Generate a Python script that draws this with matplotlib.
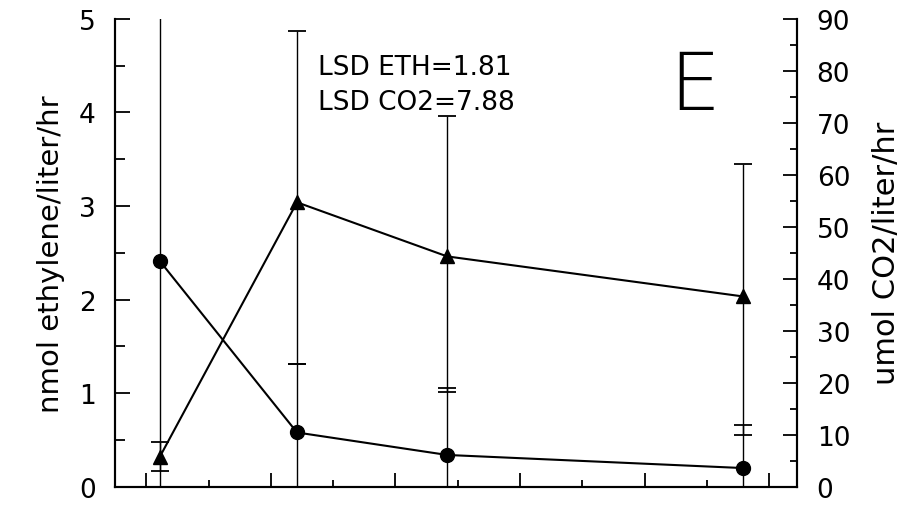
import numpy as np
import matplotlib
matplotlib.use("Agg")
import matplotlib.pyplot as plt
from matplotlib.ticker import MultipleLocator, NullFormatter

# sampling positions along the time axis (tick units)
sample_x = [0.22, 2.42, 4.83, 9.58]

# ethylene production (left axis, filled circles)
ethylene = [2.41, 0.58, 0.34, 0.20]
ethylene_err = [2.7, 0.73, 0.72, 0.46]

# CO2 production (right axis, filled triangles), lower / upper error
co2 = [5.8, 54.7, 44.3, 36.6]
co2_err_low = [2.75, 31.1, 26.0, 26.6]
co2_err_high = [2.75, 33.0, 27.0, 25.5]

lsd_lines = ["LSD ETH=1.81", "LSD CO2=7.88"]
panel = "E"

plt.rcParams["font.family"] = ["DejaVu Sans"]

fig = plt.figure(figsize=(9.06, 5.06), dpi=100)
ax = fig.add_axes([0.127, 0.036, 0.753, 0.925])
ax2 = ax.twinx()

lw = 1.5
ax.errorbar(sample_x, ethylene, yerr=ethylene_err, fmt="o-", color="black",
            ms=10, lw=lw, elinewidth=1.0, capsize=6.5, capthick=1.3)
ax2.errorbar(sample_x, co2, yerr=[co2_err_low, co2_err_high], fmt="^-",
             color="black", ms=10, lw=lw, elinewidth=1.0, capsize=6.5,
             capthick=1.3)

ax.set_xlim(-0.5, 10.45)
ax.set_ylim(0, 5)
ax2.set_ylim(0, 90)

for a in (ax, ax2):
    a.spines["top"].set_visible(False)
    for s in ("left", "right", "bottom"):
        a.spines[s].set_linewidth(lw)

ax.xaxis.set_major_locator(MultipleLocator(2))
ax.xaxis.set_minor_locator(MultipleLocator(1))
ax.xaxis.set_major_formatter(NullFormatter())
ax.tick_params(axis="x", which="major", direction="in", length=10, width=1.3)
ax.tick_params(axis="x", which="minor", direction="in", length=5, width=1.3)

ax.yaxis.set_major_locator(MultipleLocator(1))
ax.yaxis.set_minor_locator(MultipleLocator(0.5))
ax.tick_params(axis="y", which="major", direction="in", length=11, width=1.3,
               labelsize=19, pad=14)
ax.tick_params(axis="y", which="minor", direction="in", length=7, width=1.3)

ax2.yaxis.set_major_locator(MultipleLocator(10))
ax2.yaxis.set_minor_locator(MultipleLocator(5))
ax2.tick_params(axis="y", which="major", direction="in", length=10, width=1.3,
                labelsize=19, pad=14)
ax2.tick_params(axis="y", which="minor", direction="in", length=5, width=1.3)

ax.set_ylabel("nmol ethylene/liter/hr", fontsize=21, labelpad=10)
ax2.set_ylabel("umol CO2/liter/hr", fontsize=22, labelpad=16)

ax.text(0.298, 0.897, lsd_lines[0], transform=ax.transAxes, fontsize=19,
        va="center", ha="left")
ax.text(0.298, 0.822, lsd_lines[1], transform=ax.transAxes, fontsize=19,
        va="center", ha="left")
ax.text(0.812, 0.855, panel, transform=ax.transAxes, fontsize=58,
        fontweight="light", va="center", ha="left")

fig.savefig("out.png", dpi=100)
